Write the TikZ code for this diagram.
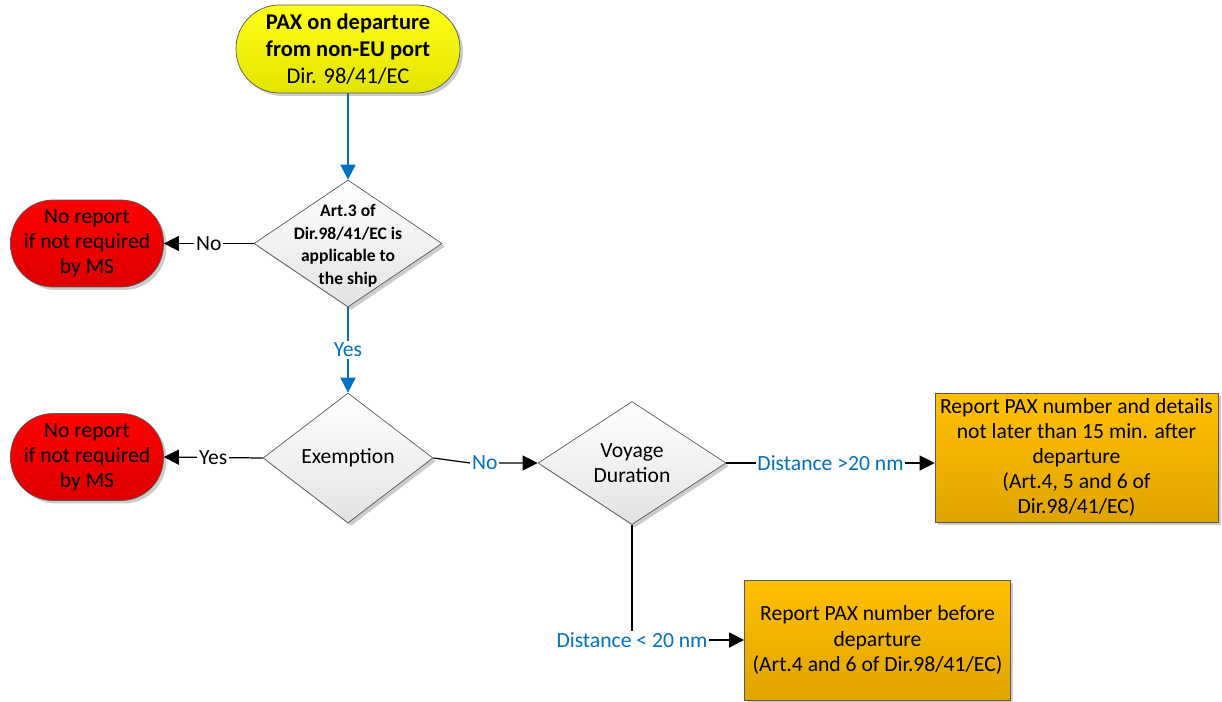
\documentclass[tikz,border=0pt]{standalone}
\usepackage{fontspec}
\setmainfont{Carlito}
\usetikzlibrary{shapes.geometric,arrows.meta,shadows}
\definecolor{linkblue}{HTML}{0070C0}
\definecolor{paxyellow}{HTML}{FFFF1A}
\definecolor{paxyellowdk}{HTML}{E3E300}
\definecolor{stopred}{HTML}{FF0000}
\definecolor{stopreddk}{HTML}{DD0000}
\definecolor{reportorange}{HTML}{FFC000}
\definecolor{reportorangedk}{HTML}{E0A400}
\tikzset{
  base/.style={draw=black!65, line width=0.4pt, align=center,
    font=\fontsize{12.3}{14.3}\selectfont,
    drop shadow={shadow xshift=0.06cm, shadow yshift=-0.06cm, fill=black!40, opacity=0.5}},
  startnode/.style={base, rectangle, rounded corners=0.87cm, minimum width=4.48cm,
    minimum height=1.76cm, font=\fontsize{12.8}{15.2}\selectfont,
    top color=paxyellow, bottom color=paxyellowdk},
  noreport/.style={base, rectangle, rounded corners=0.85cm, minimum width=3.06cm,
    minimum height=1.74cm, top color=stopred, bottom color=stopreddk},
  decision/.style={base, diamond, inner sep=0pt, top color=white, bottom color=black!11},
  reportbox/.style={base, rectangle, inner sep=2pt, top color=reportorange, bottom color=reportorangedk},
  flow/.style={line width=0.7pt, -{Triangle[length=0.3cm,width=0.3cm]}},
  blueflow/.style={flow, draw=linkblue, line width=0.9pt},
  tag/.style={fill=white, inner sep=1pt, font=\fontsize{12.3}{14}\selectfont},
}
\begin{document}
\begin{tikzpicture}[x=0.02cm, y=-0.02cm]
        \useasboundingbox (0,0) rectangle (1222,702);

        % Start
        \node[startnode] (start) at (348,49) {\textbf{PAX on departure}\\\textbf{from non-EU port}\\Dir. 98/41/EC};

        % Decisions
        \node[decision, minimum width=3.76cm, minimum height=2.54cm] (art3) at (348,243.5) {};
        \node[font=\bfseries\fontsize{10}{12.8}\selectfont, align=center] (art3text) at (348,246) {Art.3 of\\Dir.98/41/EC is\\applicable to\\the ship};
        \node[decision, minimum width=3.4cm, minimum height=2.6cm] (exempt) at (348,458) {};
        \node[font=\fontsize{12.3}{14}\selectfont] (exempttext) at (exempt) {Exemption};
        \node[decision, minimum width=3.76cm, minimum height=2.46cm] (voyage) at (632,463) {};
        \node[font=\fontsize{12.3}{14.3}\selectfont, align=center] (voyagetext) at (voyage) {Voyage\\Duration};

        % No report
        \foreach \i/\y in {1/243.5, 2/457} {
            \node[noreport] (noreport\i) at (87,\y) {No report\\if not required\\by MS};
        }

        % Reports
        \node[reportbox, minimum width=5.66cm, minimum height=2.58cm] (report1) at (1076.5,457.5) {Report PAX number and details\\not later than 15 min. after\\departure\\(Art.4, 5 and 6 of\\Dir.98/41/EC)};
        \node[reportbox, minimum width=5.32cm, minimum height=2.4cm] (report2) at (877.5,640) {Report PAX number before\\departure\\(Art.4 and 6 of Dir.98/41/EC)};

        % Connections
        \draw[blueflow] (start.south) -- (art3.north);
        \draw[flow] (art3.west) -- node[tag] {No} (noreport1.east);
        \draw[blueflow] (art3.south) -- node[tag, text=linkblue] {Yes} (exempt.north);
        \draw[flow] (exempt.west) -- node[tag] {Yes} (noreport2.east);
        \coordinate (bend) at (470,463);
        \draw[flow] (exempt.east) -- (bend) -- node[tag, text=linkblue, pos=0.22] {No} (voyage.west);
        \draw[flow] (voyage.east) -- node[tag, text=linkblue] {Distance >20 nm} (voyage.east -| report1.west);
        \draw[flow] (voyage.south) |- node[tag, text=linkblue, pos=0.5] {Distance < 20 nm} (report2.west);
\end{tikzpicture}
\end{document}
